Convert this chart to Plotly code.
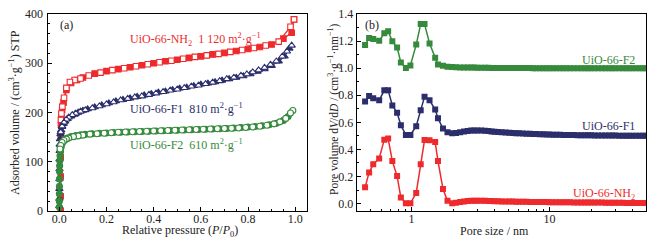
import plotly.graph_objects as go

# ---------------- (a) N2 isotherms ----------------
p_nh2_ads = [0.006, 0.006, 0.006, 0.006, 0.006, 0.007, 0.009, 0.012, 0.018, 0.03, 0.05, 0.075, 0.1, 0.15, 0.2,
             0.25, 0.3, 0.35, 0.4, 0.45, 0.5, 0.55, 0.6, 0.65, 0.7, 0.75, 0.8, 0.85, 0.9, 0.95, 0.985, 0.995]
v_nh2_ads = [0, 30, 70, 110, 150, 175, 190, 205, 220, 246, 260, 266, 271, 279, 284,
             288, 292, 296, 300, 304, 307, 311, 314, 318, 321, 325, 329, 333, 338, 350, 362, 389]
p_nh2_des = [0.995, 0.98, 0.93, 0.875, 0.825, 0.775, 0.725, 0.675, 0.625, 0.575, 0.525, 0.475, 0.425, 0.375,
             0.325, 0.275, 0.225, 0.175, 0.125, 0.09, 0.065, 0.045, 0.03, 0.02, 0.013, 0.009, 0.007]
v_nh2_des = [389, 374, 344, 336, 331, 327, 323, 319, 316, 313, 309, 305, 302, 298,
             294, 290, 286, 281, 275, 269, 266, 262, 250, 230, 212, 198, 185]

p_f1_ads = [0.0001, 0.0002, 0.0004, 0.0006, 0.0008, 0.001, 0.0015, 0.002, 0.003, 0.005, 0.008, 0.012, 0.018,
            0.025, 0.035, 0.05, 0.065, 0.08, 0.1, 0.12, 0.15, 0.18, 0.21, 0.24, 0.27, 0.3, 0.33, 0.36, 0.39,
            0.42, 0.45, 0.48, 0.51, 0.54, 0.57, 0.6, 0.63, 0.66, 0.69, 0.72, 0.75, 0.78, 0.81, 0.84, 0.87,
            0.9, 0.93, 0.955, 0.975]
v_f1_ads = [10, 25, 45, 65, 85, 105, 122, 135, 146, 156, 164, 171, 177,
            182, 187, 192, 196, 200, 204, 207, 211, 215, 219, 223, 226, 229, 232, 235, 238,
            241, 243, 246, 249, 251, 254, 257, 259, 262, 265, 268, 271, 274, 278, 283, 288,
            295, 304, 314, 330]
p_f1_des = [0.985, 0.965, 0.945, 0.92, 0.895, 0.87, 0.845, 0.82, 0.795, 0.77, 0.74, 0.71, 0.68, 0.65, 0.62,
            0.59, 0.56, 0.53, 0.5, 0.47, 0.44, 0.41, 0.38, 0.35, 0.32, 0.29, 0.26, 0.23, 0.2, 0.17,
            0.14, 0.11, 0.09, 0.07, 0.055, 0.04, 0.03, 0.02, 0.012, 0.006]
v_f1_des = [336, 324, 314, 304, 297, 291, 286, 282, 278, 275, 271, 268, 264, 261, 258,
            255, 253, 250, 247, 245, 242, 239, 236, 233, 231, 228, 225, 221, 217, 213,
            209, 205, 202, 198, 195, 190, 186, 180, 172, 160]

p_f2_ads = [0.0001, 0.0002, 0.0003, 0.0005, 0.0007, 0.001, 0.0015, 0.002, 0.003, 0.005, 0.008, 0.012, 0.018,
            0.025, 0.035, 0.05, 0.07, 0.09, 0.11, 0.14, 0.17, 0.2, 0.23, 0.26, 0.29, 0.32, 0.35, 0.38, 0.41,
            0.44, 0.47, 0.5, 0.53, 0.56, 0.59, 0.62, 0.65, 0.68, 0.71, 0.74, 0.77, 0.8, 0.83, 0.86, 0.89,
            0.92, 0.95, 0.97]
v_f2_ads = [8, 20, 35, 50, 65, 80, 92, 102, 112, 122, 130, 137, 142,
            145, 148, 151, 153, 154.5, 155.5, 157, 158, 158.5, 159.5, 160, 160.5, 161, 161.5, 162, 162.5,
            163, 163.5, 164, 164.5, 165, 165.5, 166, 166.5, 167, 167.5, 168.5, 169.5, 170.5, 171.5, 173, 175,
            178, 184, 192]
p_f2_des = [0.99, 0.98, 0.96, 0.935, 0.91, 0.88, 0.85, 0.82, 0.79, 0.76, 0.73, 0.7, 0.67, 0.64, 0.61,
            0.58, 0.55, 0.52, 0.49, 0.46, 0.43, 0.4, 0.37, 0.34, 0.31, 0.28, 0.25, 0.22, 0.19, 0.16,
            0.13, 0.1, 0.08, 0.06, 0.04, 0.03, 0.02, 0.012, 0.006, 0.003]
v_f2_des = [204, 199, 188, 181, 177, 174, 172, 170.5, 169.5, 168.5, 168, 167.5, 167, 166.5, 166,
            165.5, 165, 164.5, 164, 163.5, 163, 162.5, 162, 161.5, 161, 160.5, 160, 159, 158, 157,
            156, 154, 152.5, 151, 148, 146, 143, 139, 133, 126]

# ---------------- (b) pore size distributions (curves offset by 0 / 0.5 / 1.0) ----------------
pore_size = [0.46, 0.492, 0.527, 0.582, 0.634, 0.676, 0.725, 0.785, 0.836, 0.909, 0.98, 1.08, 1.164, 1.241,
             1.349, 1.482, 1.553, 1.688, 1.82, 1.969,
             2.1, 2.25, 2.4, 2.55, 2.7, 2.85, 3.0, 3.2, 3.4, 3.6, 3.8, 4.0, 4.25, 4.5, 4.8, 5.1, 5.4, 5.7,
             6.0, 6.4, 6.8, 7.2, 7.6, 8.0, 8.5, 9.0, 9.5, 10, 10.6, 11.2, 11.9, 12.6, 13.3, 14.1, 15, 16,
             17, 18, 19, 20, 21.2, 22.5, 24, 25.4, 27, 28.5, 30, 32, 34, 36, 38, 40, 42.5, 45, 47.5, 50]
psd_nh2 = [0.12, 0.23, 0.29, 0.333, 0.472, 0.48, 0.314, 0.203, 0.044, 0.002, 0.002, 0.078, 0.29, 0.469,
           0.467, 0.454, 0.314, 0.108, 0.02, 0.002,
           0.006, 0.011, 0.015, 0.018, 0.02, 0.021, 0.021, 0.021, 0.02, 0.019, 0.018, 0.017, 0.017, 0.016,
           0.016, 0.015, 0.015, 0.014, 0.014, 0.013, 0.013, 0.012, 0.012, 0.012, 0.011, 0.011, 0.011, 0.01,
           0.01, 0.01, 0.009, 0.009, 0.009, 0.009, 0.008, 0.008, 0.008, 0.008, 0.007, 0.007, 0.007, 0.007,
           0.007, 0.006, 0.006, 0.006, 0.006, 0.006, 0.006, 0.005, 0.005, 0.005, 0.005, 0.005, 0.005, 0.005]
psd_f1 = [0.754, 0.795, 0.778, 0.763, 0.836, 0.836, 0.724, 0.671, 0.578, 0.507, 0.507, 0.571, 0.69, 0.788,
          0.763, 0.695, 0.63, 0.554, 0.527, 0.52,
          0.522, 0.527, 0.532, 0.536, 0.539, 0.54, 0.54, 0.539, 0.537, 0.535, 0.533, 0.531, 0.529, 0.527,
          0.525, 0.523, 0.521, 0.52, 0.519, 0.517, 0.516, 0.515, 0.514, 0.513, 0.512, 0.511, 0.51, 0.51,
          0.509, 0.508, 0.508, 0.507, 0.507, 0.506, 0.506, 0.505, 0.505, 0.504, 0.504, 0.504, 0.503, 0.503,
          0.503, 0.502, 0.502, 0.502, 0.502, 0.501, 0.501, 0.501, 0.501, 0.5, 0.5, 0.5, 0.5, 0.5]
psd_f2 = [1.171, 1.222, 1.216, 1.202, 1.258, 1.272, 1.198, 1.153, 1.041, 1.002, 1.02, 1.174, 1.327, 1.327,
          1.182, 1.076, 1.027, 1.017, 1.01, 1.008,
          1.006, 1.005, 1.005, 1.004, 1.004, 1.004, 1.003, 1.003, 1.003, 1.003, 1.002, 1.002, 1.002, 1.002,
          1.002, 1.001, 1.001, 1.001, 1.001, 1.001, 1.001, 1.001, 1.0, 1.0, 1.0, 1.0, 1.0, 1.0,
          1.0, 1.0, 1.0, 1.0, 1.0, 1.0, 1.0, 1.0, 1.0, 1.0, 1.0, 1.0, 1.0, 1.0,
          1.0, 1.0, 1.0, 1.0, 1.0, 1.0, 1.0, 1.0, 1.0, 1.0, 1.0, 1.0, 1.0, 1.0]

RED = "#EE2A2C"
NAVY = "#2C2E6C"
GREEN = "#358A3C"
W, H = 651, 242
FONT = "Liberation Serif"


def px(x):
    return x / W


def py(y):
    return 1 - y / H


fig = go.Figure()


def iso(p, v, color, symbol, filled, size):
    fig.add_trace(go.Scatter(
        x=p, y=v, mode="lines+markers", xaxis="x", yaxis="y",
        line=dict(color=color, width=1.3),
        marker=dict(symbol=symbol, size=size, color=color if filled else "white",
                    line=dict(color=color, width=1.1)),
        showlegend=False, hoverinfo="skip"))


iso(p_nh2_ads, v_nh2_ads, RED, "square", True, 5.5)
iso(p_nh2_des, v_nh2_des, RED, "square", False, 5.5)
iso(p_f1_ads, v_f1_ads, NAVY, "triangle-up", True, 6.5)
iso(p_f1_des, v_f1_des, NAVY, "triangle-up", False, 6.5)
iso(p_f2_ads, v_f2_ads, GREEN, "circle", True, 6)
iso(p_f2_des, v_f2_des, GREEN, "circle", False, 6)

for vals, color in [(psd_nh2, RED), (psd_f1, NAVY), (psd_f2, GREEN)]:
    fig.add_trace(go.Scatter(
        x=pore_size, y=vals, mode="lines+markers", xaxis="x2", yaxis="y2",
        line=dict(color=color, width=1.5),
        marker=dict(symbol="square", size=6, color=color, line=dict(width=0)),
        showlegend=False, hoverinfo="skip"))

axis_common = dict(showline=True, linecolor="black", linewidth=1, mirror=True,
                   ticks="inside", ticklen=4, tickwidth=1, tickcolor="black",
                   showgrid=False, zeroline=False, automargin=False,
                   tickfont=dict(family=FONT, size=12, color="#222"))
ydom = [py(211), py(14)]

fig.update_layout(
    template="none",
    width=W, height=H, autosize=False,
    margin=dict(l=0, r=0, t=0, b=0, pad=0, autoexpand=False),
    paper_bgcolor="white", plot_bgcolor="white",
    xaxis=dict(domain=[px(47.5), px(307)], range=[-0.05, 1.05], tickvals=[0, 0.2, 0.4, 0.6, 0.8, 1.0],
               ticktext=["0.0", "0.2", "0.4", "0.6", "0.8", "1.0"], ticklabelstandoff=-3,
               minor=dict(ticks="inside", ticklen=2.5, dtick=0.05, tick0=0, tickcolor="black"),
               anchor="y", **axis_common),
    yaxis=dict(domain=ydom, range=[0, 400], dtick=100, ticklabelstandoff=1,
               minor=dict(ticks="inside", ticklen=2.5, dtick=20, tickcolor="black"),
               anchor="x", **axis_common),
    xaxis2=dict(domain=[px(356.7), px(646)], type="log", range=[-0.398, 1.699],
                tickvals=[1, 10], ticktext=["1", "10"], ticklabelstandoff=-3,
                minor=dict(ticks="inside", ticklen=2.5, tickcolor="black",
                           tickvals=[0.4, 0.5, 0.6, 0.7, 0.8, 0.9, 2, 3, 4, 5, 6, 7, 8, 9, 20, 30, 40, 50]),
                anchor="y2", **axis_common),
    yaxis2=dict(domain=ydom, range=[-0.055, 1.4], tickvals=[0, 0.2, 0.4, 0.6, 0.8, 1.0, 1.2, 1.4],
                tickformat=".1f",
                minor=dict(ticks="inside", ticklen=2.5, dtick=0.1, tick0=0, tickcolor="black"),
                anchor="x2", **axis_common),
)


def ann(text, x, y, color="#222", size=12, xanchor="center", angle=0):
    fig.add_annotation(text=text, x=px(x), y=py(y), xref="paper", yref="paper",
                       showarrow=False, xanchor=xanchor, yanchor="middle", textangle=angle,
                       font=dict(family=FONT, size=size, color=color))


# axis titles
ann("Adsorbed volume / (cm<sup>3</sup>·g<sup>−1</sup>) STP", 14, 113, angle=-90)
ann("Relative pressure (<i>P</i>/<i>P</i><sub>0</sub>)", 180, 231)
ann("Pore volume d<i>V</i>/d<i>D</i> / (cm<sup>3</sup>·g<sup>−1</sup>·nm<sup>−1</sup>)", 333, 110, size=11.5, angle=-90)
ann("Pore size / nm", 494, 231)

# panel labels
ann("(a)", 66, 25)
ann("(b)", 372, 25)

# series labels (a)
ann("UiO-66-NH<sub>2</sub>  1 120 m<sup>2</sup>·g<sup>−1</sup>", 128, 39, color=RED, xanchor="left")
ann("UiO-66-F1  810 m<sup>2</sup>·g<sup>−1</sup>", 128, 108, color=NAVY, xanchor="left")
ann("UiO-66-F2  610 m<sup>2</sup>·g<sup>−1</sup>", 128, 144, color=GREEN, xanchor="left")

# series labels (b)
ann("UiO-66-F2", 637, 60, color=GREEN, xanchor="right")
ann("UiO-66-F1", 637, 126, color=NAVY, xanchor="right")
ann("UiO-66-NH<sub>2</sub>", 637, 194, color=RED, xanchor="right")

fig.write_html("out.html", config={"displayModeBar": False},
               post_script="document.body.style.margin='0';document.body.style.padding='0';")
